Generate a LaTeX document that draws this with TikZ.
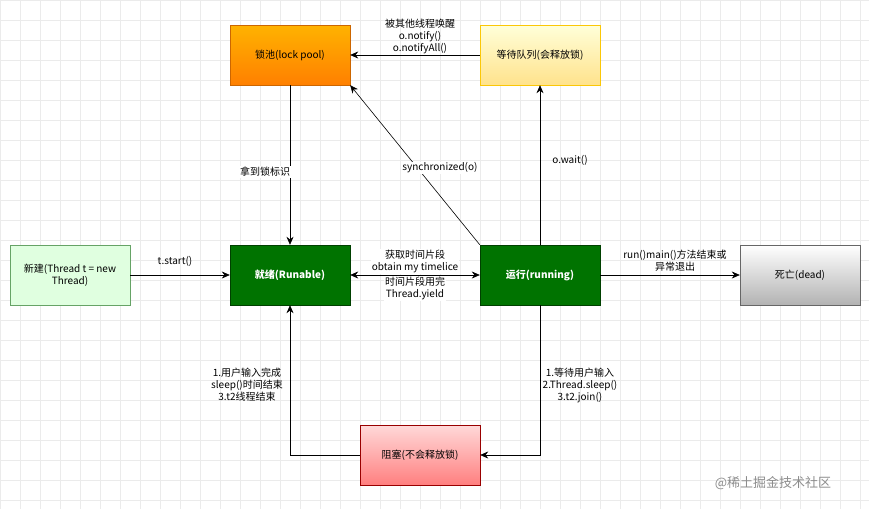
\documentclass[tikz,border=0pt]{standalone}
\usepackage{fontspec}
\setmainfont{Noto Sans CJK SC}
\usetikzlibrary{arrows.meta,positioning}
\tikzset{
  state/.style={rectangle, draw, minimum width=120pt, minimum height=60pt, inner sep=2pt, align=center, font=\fontsize{10}{12}\selectfont},
  dark/.style={state, fill=green!45!black, draw=green!25!black, text=white, font=\fontsize{10}{12}\selectfont\bfseries},
  link/.style={-{Stealth[length=8pt,width=7pt]}, semithick},
  lbl/.style={align=center, font=\fontsize{10}{12}\selectfont, fill=white, inner sep=1pt}
}
\begin{document}
\begin{tikzpicture}[x=1pt, y=-1pt]
\useasboundingbox (0,0) rectangle (869,509);
\draw[black!8] (0,0) grid[step=20pt] (869,509);

\node (lockpool) [state, top color=orange!60!yellow, bottom color=orange, draw=orange!80!black] at (290,55) {锁池(lock pool)};
\node (waitq) [state, top color=yellow!15, bottom color=yellow!50!orange!45, draw=yellow!60!orange] at (540,55) {等待队列(会释放锁)};
\node (new) [state, fill=green!12, draw=green!40!black!60] at (70,275) {新建(Thread t = new\\Thread)};
\node (ready) [dark] at (290,275) {就绪(Runable)};
\node (running) [dark] at (540,275) {运行(running)};
\node (dead) [state, top color=white, bottom color=black!30, draw=black!60] at (800,275) {死亡(dead)};
\node (blocked) [state, top color=red!15, bottom color=red!50, draw=red!60!black] at (420,455) {阻塞(不会释放锁)};
\coordinate (runbot) at (540,455);
\coordinate (blkleft) at (290,455);

\draw [link] (waitq) -- (lockpool);
\node [lbl, fill=none] at (420,36) {被其他线程唤醒\\o.notify()\\o.notifyAll()};
\draw [link] (lockpool) -- (ready);
\node [lbl] at (265,172) {拿到锁标识};
\draw [link] (running.north west) -- (lockpool.south east);
\node [lbl] at (440,168) {synchronized(o)};
\draw [link] (running) -- (waitq);
\node [lbl, fill=none] at (570,160) {o.wait()};
\draw [link] (new) -- (ready);
\node [lbl, fill=none] at (175,261) {t.start()};
\draw [{Stealth[length=8pt,width=7pt]}-{Stealth[length=8pt,width=7pt]}, semithick] (ready) -- node[lbl, above=1pt] {获取时间片段\\obtain my timelice} node[lbl, below=1pt] {时间片段用完\\Thread.yield} (running);
\draw [link] (running) -- (dead);
\node [lbl, fill=none] at (675,261) {run()main()方法结束或\\异常退出};
\draw [link] (running) -- (runbot) -- (blocked);
\node [lbl, fill=none] at (580,385) {1.等待用户输入\\2.Thread.sleep()\\3.t2.join()};
\draw [link] (blocked) -- (blkleft) -- (ready);
\node [lbl, fill=none] at (247,385) {1.用户输入完成\\sleep()时间结束\\3.t2线程结束};
\node [text=black!45, font=\fontsize{13}{15}\selectfont] at (773,483) {@稀土掘金技术社区};
\end{tikzpicture}
\end{document}
